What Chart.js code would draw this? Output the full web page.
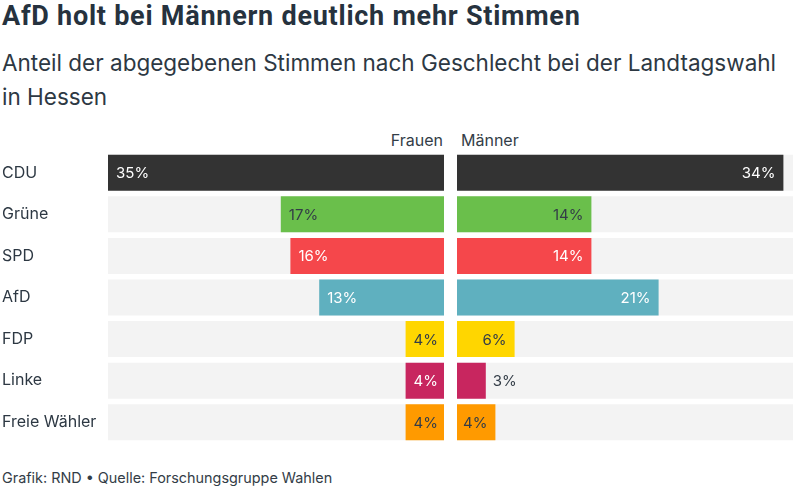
<!DOCTYPE html>
<html>
<head>
<meta charset="utf-8">
<script src="https://cdn.jsdelivr.net/npm/chart.js@4"></script>
<style>
  body { margin: 0; width: 800px; height: 488px; background: #fff; position: relative; overflow: hidden;
         font-family: Inter, sans-serif; color: #2d3843; }
  .titel { position: absolute; left: 2px; top: 0px; font: 700 27px Roboto, sans-serif; letter-spacing: 0.75px; color: #26323e; white-space: nowrap; }
  .unter { position: absolute; left: 2px; top: 46px; font-size: 22.5px; line-height: 34px; width: 785px; color: #2d3843; }
  .kopf { position: absolute; top: 130px; font-size: 16px; color: #333d47; }
  .fuss { position: absolute; left: 2px; top: 469px; font-size: 14.4px; color: #333d47; }
  canvas { position: absolute; top: 152px; }
</style>
</head>
<body>
<div class="titel">AfD holt bei Männern deutlich mehr Stimmen</div>
<div class="unter">Anteil der abgegebenen Stimmen nach Geschlecht bei der Landtagswahl in Hessen</div>
<div class="kopf" style="right:357px">Frauen</div>
<div class="kopf" style="left:461px">Männer</div>
<canvas id="frauenChart" width="442" height="291" style="left:2px"></canvas>
<canvas id="maennerChart" width="336" height="291" style="left:457px"></canvas>
<div class="fuss">Grafik: RND • Quelle: Forschungsgruppe Wahlen</div>
<script>
// Daten
var parteien = ['CDU', 'Grüne', 'SPD', 'AfD', 'FDP', 'Linke', 'Freie Wähler'];
var frauen = [35, 17, 16, 13, 4, 4, 4];
var maenner = [34, 14, 14, 21, 6, 3, 4];
var skalaMax = 35;

// Farben
var farben = ['#333333', '#6abf4b', '#f5474b', '#5fb0bf', '#ffd600', '#c8265f', '#ff9a00'];
var textFarben = ['#ffffff', '#333d47', '#ffffff', '#ffffff', '#333d47', '#ffffff', '#333d47'];

// Prozentwerte an die Balkenenden schreiben
var wertLabels = {
    id: 'wertLabels',
    afterDatasetsDraw: function (chart, args, opts) {
        var ctx = chart.ctx;
        var meta = chart.getDatasetMeta(0);
        ctx.save();
        ctx.font = '15px Inter';
        ctx.textBaseline = 'middle';
        meta.data.forEach(function (bar, i) {
            var text = chart.data.datasets[0].data[i] + '%';
            var breite = Math.abs(bar.x - bar.base);
            var tw = ctx.measureText(text).width;
            var innen = breite >= tw + 10;
            ctx.fillStyle = innen ? textFarben[i] : '#333d47';
            if (opts.links) {
                ctx.textAlign = innen ? 'left' : 'right';
                ctx.fillText(text, innen ? bar.x + 8 : bar.x - 7, bar.y + 1);
            } else {
                ctx.textAlign = innen ? 'right' : 'left';
                ctx.fillText(text, innen ? bar.x - 8 : bar.x + 7, bar.y + 1);
            }
        });
        ctx.restore();
    }
};

function makeChart(id, werte, links) {
    var ctx = document.getElementById(id).getContext('2d');
    return new Chart(ctx, {
        type: 'bar',
        data: {
            labels: parteien,
            datasets: [
                {
                    data: werte,
                    backgroundColor: farben,
                    grouped: false,
                    order: 1,
                    barPercentage: 0.866,
                    categoryPercentage: 1
                },
                {
                    data: parteien.map(function () { return skalaMax; }),
                    backgroundColor: '#f3f3f3',
                    grouped: false,
                    order: 2,
                    barPercentage: 0.866,
                    categoryPercentage: 1
                }
            ]
        },
        options: {
            indexAxis: 'y',
            responsive: false,
            animation: false,
            layout: { padding: 0 },
            plugins: {
                legend: { display: false },
                tooltip: { enabled: false },
                wertLabels: { links: links }
            },
            scales: {
                x: { min: 0, max: skalaMax, reverse: links, display: false },
                y: {
                    display: links,
                    grid: { display: false },
                    border: { display: false },
                    ticks: {
                        crossAlign: 'far',
                        padding: 0,
                        color: '#2d3843',
                        font: { family: 'Inter', size: 16 }
                    },
                    afterFit: function (scale) {
                        scale.width = links ? 106 : 0;
                        scale.paddingTop = 0;
                        scale.paddingBottom = 0;
                    }
                }
            }
        },
        plugins: [wertLabels]
    });
}

makeChart('frauenChart', frauen, true);
makeChart('maennerChart', maenner, false);
</script>
</body>
</html>
